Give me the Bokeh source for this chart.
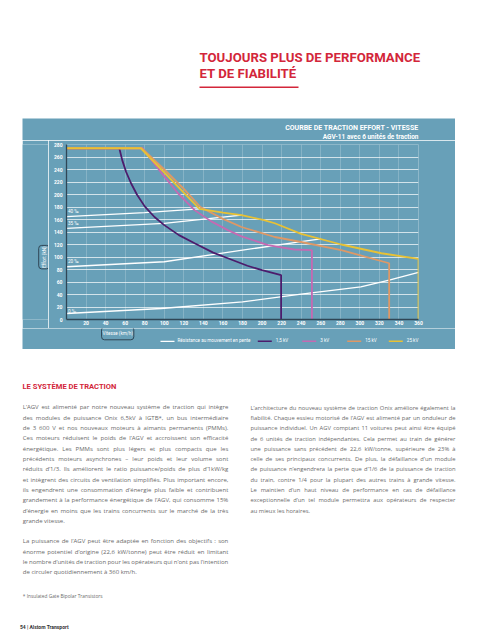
import math
import glob
import subprocess
from bokeh.plotting import figure
from bokeh.models import ColumnDataSource, Label, BoxAnnotation, FixedTicker, Range1d, Spacer
from bokeh.layouts import column, row
from bokeh.embed import file_html
from bokeh.resources import INLINE
from bokeh.core.properties import value

# ---------------- data ----------------
speed_ticks = [20, 40, 60, 80, 100, 120, 140, 160, 180, 200, 220, 240, 260, 280, 300, 320, 340, 360]
effort_ticks = [0, 20, 40, 60, 80, 100, 120, 140, 160, 180, 200, 220, 240, 260, 280]

v_1500 = [0, 54, 57, 61, 66, 72, 80, 90, 100, 115, 131, 150, 165, 185, 200, 219.5, 219.5]
f_1500 = [274, 274, 255, 236, 218, 200, 181, 164, 151, 135, 122, 107, 98, 86, 79, 71, 0]

v_3000 = [0, 78, 83, 100, 114, 131, 148, 165, 179, 206, 233, 251, 251]
f_3000 = [274, 274, 263, 229, 202, 175, 157, 143, 133, 119, 112, 111, 0]

v_15k = [0, 77, 100, 120, 137, 160, 179, 213, 240, 281, 330, 330]
f_15k = [274, 274, 240, 209, 180, 161, 148, 132, 124, 111, 90, 0]

v_25k = [0, 76, 136, 160, 179, 202, 213, 240, 281, 322, 360, 360]
f_25k = [274, 274, 177, 171, 167, 159, 154, 137, 120, 106, 97, 0]

v_res0 = [0, 97, 180, 240, 301, 330, 360]
f_res0 = [9.6, 17.6, 28.3, 40.6, 52.3, 63, 75.3]
v_res20 = [0, 100, 180, 240, 260]
f_res20 = [84.4, 92.4, 111, 124.5, 129]
v_res35 = [0, 100, 179]
f_res35 = [145.8, 153.8, 167]
v_res40 = [0, 80, 136]
f_res40 = [164.5, 171, 177]

grade_labels = ["40 ‰", "35 ‰", "20 ‰", "0 ‰"]
series_names = ["1,5 kV", "3 kV", "15 kV", "25 kV"]
resistance_name = "Résistance au mouvement en pente"

chart_title_1 = "COURBE DE TRACTION EFFORT - VITESSE"
chart_title_2 = "AGV-11 avec 6 unités de traction"
y_title = "Effort (kN)"
x_title = "Vitesse (km/h)"

page_title = ["TOUJOURS PLUS DE PERFORMANCE", "ET DE FIABILITÉ"]
section_title = "LE SYSTÈME DE TRACTION"
left_par1 = [
    "L’AGV est alimenté par notre nouveau système de traction qui intègre",
    "des modules de puissance Onix 6,5kV à IGTB*, un bus intermédiaire",
    "de 3 600 V et nos nouveaux moteurs à aimants permanents (PMMs).",
    "Ces moteurs réduisent le poids de l’AGV et accroissent son efficacité",
    "énergétique. Les PMMs sont plus légers et plus compacts que les",
    "précédents moteurs asynchrones – leur poids et leur volume sont",
    "réduits d’1/3. Ils améliorent le ratio puissance/poids de plus d’1kW/kg",
    "et intègrent des circuits de ventilation simplifiés. Plus important encore,",
    "ils engendrent une consommation d’énergie plus faible et contribuent",
    "grandement à la performance énergétique de l’AGV, qui consomme 15%",
    "d’énergie en moins que les trains concurrents sur le marché de la très",
    "grande vitesse.",
]
left_par2 = [
    "La puissance de l’AGV peut être adaptée en fonction des objectifs : son",
    "énorme potentiel  d’origine (22,6 kW/tonne) peut être réduit en limitant",
    "le nombre d’unités de traction pour les opérateurs qui n’ont pas l’intention",
    "de circuler quotidiennement à 360 km/h.",
]
right_par = [
    "L’architecture du nouveau système de traction Onix améliore également la",
    "fiabilité. Chaque essieu motorisé de l’AGV est alimenté par un onduleur de",
    "puissance individuel. Un AGV comptant 11 voitures peut ainsi être équipé",
    "de 6 unités de traction indépendantes. Cela permet au train de générer",
    "une puissance sans précédent de 22,6 kW/tonne, supérieure de 23% à",
    "celle de ses principaux concurrents. De plus, la défaillance d’un module",
    "de puissance n’engendrera la perte que d’1/6 de la puissance de traction",
    "du train, contre  1/4 pour la plupart des autres trains à grande vitesse.",
    "Le maintien d’un haut niveau de performance en cas de défaillance",
    "exceptionnelle d’un tel module permettra aux opérateurs de respecter",
    "au mieux les horaires.",
]
footnote = "* Insulated Gate Bipolar Transistors"
footer = "54 | Alstom Transport"

# ---------------- styles ----------------
BLUE = "#68a0b8"
RED = "#d3263a"
DARK = "#2f4656"
GRAY = "#6a6a6a"
COLORS = ["#4c1c6c", "#c46ab2", "#de9866", "#e8c134"]
FONT = "Roboto"
BODY_FONT = "Open Sans"


def blank_fig(w, h, x0, x1, y_top, y_bottom, bg):
    f = figure(width=w, height=h, x_range=Range1d(x0, x1), y_range=Range1d(y_bottom, y_top),
               output_backend="svg", toolbar_location=None, x_axis_type=None, y_axis_type=None,
               min_border=0, min_border_left=0, min_border_right=0, min_border_top=0, min_border_bottom=0)
    f.grid.visible = False
    f.outline_line_color = None
    f.background_fill_color = bg
    f.border_fill_color = bg
    return f


def make_measure():
    try:
        from PIL import ImageFont
    except Exception:
        return None
    path = None
    try:
        out = subprocess.run(["fc-match", "-f", "%{file}", "Open Sans:style=Regular"],
                             capture_output=True, text=True, timeout=5).stdout.strip()
        if "opensans" in out.lower().replace(" ", "").replace("-", "").replace("_", ""):
            path = out
    except Exception:
        path = None
    if path is None:
        bad = ("italic", "bold", "light", "semi", "extra", "condensed", "medium")
        cands = [c for c in glob.glob("/usr/share/fonts/**/*.ttf", recursive=True)
                 if "opensans" in c.lower().replace(" ", "").replace("-", "").replace("_", "")
                 and not any(b in c.lower() for b in bad)]
        if cands:
            path = sorted(cands)[0]
    if path is None:
        return None
    try:
        font = ImageFont.truetype(path, 1000)
        return lambda s, size: font.getlength(s) * size / 1000.0
    except Exception:
        return None


measure = make_measure()

# ---------------- header (page px coords) ----------------
hdr = blank_fig(478, 118, 0, 478, 0, 118, "white")
for i, t in enumerate(page_title):
    hdr.add_layout(Label(x=199, y=56.7 + i * 16.7, text=t, text_color=RED, text_font=FONT,
                         text_font_style="bold", text_font_size="13.2px", text_baseline="middle"))
hdr.add_layout(BoxAnnotation(left=199, right=298, top=86.1, bottom=87.5, fill_color=RED,
                             fill_alpha=1, line_color=None))

# ---------------- chart panel ----------------
top_fig = blank_fig(433, 22, 22, 455, 118, 140, BLUE)
top_fig.add_layout(Label(x=418, y=127.3, text=chart_title_1, text_color="white", text_font=FONT,
                         text_font_style="bold", text_font_size="7px", text_align="right",
                         text_baseline="middle"))
top_fig.add_layout(Label(x=418, y=136.2, text=chart_title_2, text_color="white", text_font=FONT,
                         text_font_style="bold", text_font_size="6.5px", text_align="right",
                         text_baseline="middle"))

ylab_fig = blank_fig(26, 188, 22, 48, 140, 328, BLUE)
ylab_fig.add_layout(Label(x=43.7, y=261, text=y_title, angle=math.pi / 2, text_color="white",
                          text_font=FONT, text_font_size="4.6px", text_align="center",
                          text_baseline="middle", border_line_color=DARK, border_line_width=1,
                          border_radius=3, padding=(1, 3)))

p = figure(width=407, height=188, x_range=Range1d(0, 360), y_range=Range1d(0, 280),
           output_backend="svg", toolbar_location=None,
           min_border_left=18, min_border_right=37, min_border_top=4, min_border_bottom=9)
p.background_fill_color = BLUE
p.border_fill_color = BLUE
p.outline_line_color = None

p.xaxis.ticker = FixedTicker(ticks=speed_ticks)
p.yaxis.ticker = FixedTicker(ticks=effort_ticks)
for ax in (p.xaxis, p.yaxis):
    ax.axis_line_color = DARK
    ax.axis_line_width = 1.3
    ax.major_tick_line_color = None
    ax.minor_tick_line_color = None
    ax.major_tick_out = 0
    ax.major_tick_in = 0
    ax.minor_tick_out = 0
    ax.major_label_text_color = "white"
    ax.major_label_text_font = FONT
    ax.major_label_text_font_style = "bold"
    ax.major_label_text_font_size = "5px"
p.xaxis.major_label_standoff = 1
p.yaxis.major_label_standoff = 4
p.ygrid.grid_line_color = "white"
p.ygrid.grid_line_alpha = 0.7
p.ygrid.grid_line_width = 1
p.xgrid.grid_line_color = "white"
p.xgrid.grid_line_alpha = 0.25
p.xgrid.grid_line_width = 0.8

res_v = [v_res40, v_res35, v_res20, v_res0]
res_f = [f_res40, f_res35, f_res20, f_res0]
label_lift = [8, 8, 8, 3]
for vv, ff in zip(res_v, res_f):
    p.line(vv, ff, line_color="white", line_width=1.3)
for ff, lab, lift in zip(res_f, grade_labels, label_lift):
    p.add_layout(Label(x=1.5, y=ff[0] + lift, text=lab, text_color="white", text_font=FONT,
                       text_font_size="4.6px", text_baseline="middle"))

series_v = [v_1500, v_3000, v_15k, v_25k]
series_f = [f_1500, f_3000, f_15k, f_25k]
for vv, ff, c in zip(series_v, series_f, COLORS):
    p.line(vv, ff, line_color=c, line_width=1.8)

bot_fig = blank_fig(433, 21, 22, 455, 328, 349, BLUE)
bot_fig.add_layout(Label(x=117.2, y=332.8, text=x_title, text_color="white",
                         text_font=FONT, text_font_size="4.6px", text_align="center",
                         text_baseline="middle", border_line_color=DARK, border_line_width=1,
                         border_radius=3, padding=(1, 4)))
leg_y = 340.8
bot_fig.add_layout(BoxAnnotation(left=160, right=174, bottom=leg_y + 0.6, top=leg_y - 0.6,
                                 fill_color="white", fill_alpha=1, line_color=None))
bot_fig.add_layout(Label(x=177, y=leg_y - 0.4, text=resistance_name, text_color="white",
                         text_font=FONT, text_font_size="4.6px", text_baseline="middle"))
sw_left = [257.3, 301.7, 346.7, 388.3]
for xl, c, nm in zip(sw_left, COLORS, series_names):
    bot_fig.add_layout(BoxAnnotation(left=xl, right=xl + 14, bottom=leg_y + 0.8, top=leg_y - 0.8,
                                     fill_color=c, fill_alpha=1, line_color=None))
    bot_fig.add_layout(Label(x=xl + 18, y=leg_y - 0.4, text=nm, text_color="white",
                             text_font=FONT, text_font_size="4.6px", text_baseline="middle"))

panel = column(top_fig, row(ylab_fig, p), bot_fig)

# ---------------- body ----------------
body = blank_fig(478, 291, 0, 478, 349, 640, "white")
body.add_layout(Label(x=22, y=386.2, text=section_title, text_color=RED, text_font=FONT,
                      text_font_style="bold", text_font_size="7.6px", text_baseline="middle"))


def add_paragraph(lines, x0, y0, dy, width, size):
    xs, ys, ts = [], [], []
    for i, line in enumerate(lines):
        y = y0 + i * dy
        last = i == len(lines) - 1
        words = line.split()
        if measure is None or last or len(words) < 2:
            xs.append(x0)
            ys.append(y)
            ts.append(line)
            continue
        widths = [measure(w, size) for w in words]
        gap = (width - sum(widths)) / (len(words) - 1)
        if gap <= 0.3 or gap > 6:
            xs.append(x0)
            ys.append(y)
            ts.append(line)
            continue
        x = x0
        for w, wd in zip(words, widths):
            xs.append(x)
            ys.append(y)
            ts.append(w)
            x += wd + gap
    src = ColumnDataSource(dict(x=xs, y=ys, t=ts))
    body.text(x="x", y="y", text="t", source=src, text_color=GRAY, text_font=value(BODY_FONT),
              text_font_size=f"{size}px", text_baseline="middle")


add_paragraph(left_par1, 22.3, 406.7, 10.36, 205.5, 6.0)
add_paragraph(left_par2, 22.3, 540.9, 10.3, 205.5, 6.0)
add_paragraph(right_par, 250, 407.3, 10.27, 205.0, 5.8)

body.add_layout(Label(x=22.3, y=595.7, text=footnote, text_color=GRAY, text_font=BODY_FONT,
                      text_font_size="4.8px", text_baseline="middle"))
body.add_layout(Label(x=19.5, y=626.7, text=footer, text_color="#333333", text_font=FONT,
                      text_font_style="bold", text_font_size="5px", text_baseline="middle"))

layout = column(hdr, row(Spacer(width=22, height=231), panel, Spacer(width=23, height=231)), body)

open("out.html", "w").write(file_html(layout, INLINE))
